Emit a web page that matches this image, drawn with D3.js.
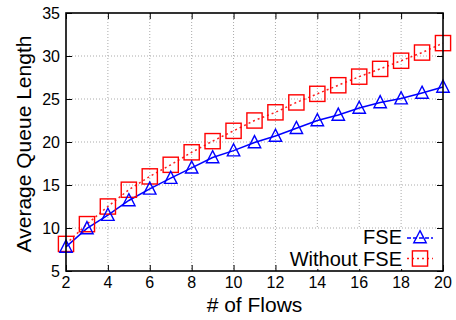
<!DOCTYPE html>
<html>
<head>
<meta charset="utf-8">
<script src="https://cdn.jsdelivr.net/npm/d3@7"></script>
<style>
  body { margin: 0; background: #fff; }
  svg text { font-family: "Liberation Sans", Arial, sans-serif; fill: #000; }
</style>
</head>
<body>
<svg id="chart" width="456" height="320"></svg>
<script>
// values
let flows = [2, 3, 4, 5, 6, 7, 8, 9, 10, 11, 12, 13, 14, 15, 16, 17, 18, 19, 20];
let fse = [7.8, 9.95, 11.5, 13.2, 14.55, 15.8, 17.0, 18.2, 19.0, 19.95, 20.7, 21.6, 22.5, 23.15, 23.95, 24.6, 25.05, 25.7, 26.4];
let withoutFse = [8.15, 10.45, 12.5, 14.45, 16.0, 17.35, 18.8, 20.1, 21.3, 22.5, 23.45, 24.6, 25.6, 26.6, 27.6, 28.5, 29.45, 30.4, 31.5];
let xTicks = [2, 4, 6, 8, 10, 12, 14, 16, 18, 20];
let yTicks = [5, 10, 15, 20, 25, 30, 35];
let seriesNames = ["FSE", "Without FSE"];

const svg = d3.select("#chart");
const plotL = 66, plotR = 443, plotT = 13, plotB = 271;

const x = d3.scaleLinear().domain([2, 20]).range([plotL, plotR]);
const y = d3.scaleLinear().domain([5, 35]).range([plotB, plotT]);

// grid
let grid = svg.append("g").attr("stroke", "#aaa").attr("stroke-width", 1).attr("stroke-dasharray", "1,2");
xTicks.slice(1, -1).forEach(t => {
     grid.append("line").attr("x1", x(t)).attr("x2", x(t)).attr("y1", plotT).attr("y2", plotB);
});
yTicks.slice(1, -1).forEach(t => {
     grid.append("line").attr("x1", plotL).attr("x2", plotR).attr("y1", y(t)).attr("y2", y(t));
});

// axes with inward ticks, mirrored
let xAxis = svg.append("g").attr("transform", `translate(0,${plotB})`)
     .call(d3.axisTop(x).tickValues(xTicks).tickSize(6).tickFormat(""));
let xAxisTop = svg.append("g").attr("transform", `translate(0,${plotT})`)
     .call(d3.axisBottom(x).tickValues(xTicks).tickSize(6).tickFormat(""));
let yAxis = svg.append("g").attr("transform", `translate(${plotL},0)`)
     .call(d3.axisRight(y).tickValues(yTicks).tickSize(6).tickFormat(""));
let yAxisR = svg.append("g").attr("transform", `translate(${plotR},0)`)
     .call(d3.axisLeft(y).tickValues(yTicks).tickSize(6).tickFormat(""));
[xAxis, xAxisTop, yAxis, yAxisR].forEach(a => {
     a.select(".domain").remove();
     a.selectAll("line").attr("stroke", "#000").attr("stroke-width", 1);
});

// tick labels
svg.append("g").selectAll("text").data(xTicks).enter().append("text")
     .attr("x", d => x(d)).attr("y", plotB + 17)
     .attr("text-anchor", "middle").attr("font-size", 16)
     .text(d => d);
svg.append("g").selectAll("text").data(yTicks).enter().append("text")
     .attr("x", plotL - 6).attr("y", d => y(d) + 6)
     .attr("text-anchor", "end").attr("font-size", 16)
     .text(d => d);

// axis titles
svg.append("text").attr("x", (plotL + plotR) / 2).attr("y", 312)
     .attr("text-anchor", "middle").attr("font-size", 21).text("# of Flows");
svg.append("text").attr("transform", `translate(31,144) rotate(-90)`)
     .attr("text-anchor", "middle").attr("font-size", 21).text("Average Queue Length");

// lines
let lineGen = d3.line().x((d, i) => x(flows[i])).y(d => y(d));

svg.append("path").datum(withoutFse).attr("d", lineGen)
     .attr("fill", "none").attr("stroke", "#ff2020").attr("stroke-width", 1.5)
     .attr("stroke-dasharray", "2,3");
svg.append("path").datum(fse).attr("d", lineGen)
     .attr("fill", "none").attr("stroke", "#0000ff").attr("stroke-width", 1.5);

function triangle(g, cx, cy) {
     let s = 6.2;
     g.append("path")
          .attr("d", `M${cx},${cy - s * 1.1}L${cx + s},${cy + s * 0.85}L${cx - s},${cy + s * 0.85}Z`)
          .attr("fill", "none").attr("stroke", "#0000ff").attr("stroke-width", 1.4);
}
function square(g, cx, cy) {
     let h = 7.6;
     g.append("rect").attr("x", cx - h).attr("y", cy - h).attr("width", h * 2).attr("height", h * 2)
          .attr("fill", "none").attr("stroke", "#ff0000").attr("stroke-width", 1.4);
}

let sqG = svg.append("g");
withoutFse.forEach((v, i) => square(sqG, x(flows[i]), y(v)));
let triG = svg.append("g");
fse.forEach((v, i) => triangle(triG, x(flows[i]), y(v)));

// legend (opaque box)
svg.append("rect").attr("x", 280).attr("y", 229).attr("width", 161).attr("height", 40).attr("fill", "#fff");
let leg = svg.append("g");
leg.append("text").attr("x", 402).attr("y", 243.5).attr("text-anchor", "end").attr("font-size", 20).text(seriesNames[0]);
leg.append("text").attr("x", 402).attr("y", 266).attr("text-anchor", "end").attr("font-size", 20).text(seriesNames[1]);
leg.append("line").attr("x1", 407).attr("x2", 433).attr("y1", 238).attr("y2", 238)
     .attr("stroke", "#0000ff").attr("stroke-width", 1.5).attr("stroke-dasharray", "4,2");
triangle(leg, 420, 237.5);
leg.append("line").attr("x1", 407).attr("x2", 433).attr("y1", 258.5).attr("y2", 258.5)
     .attr("stroke", "#ff2020").attr("stroke-width", 1.5).attr("stroke-dasharray", "2,3");
square(leg, 420, 258.5);

// frame
svg.append("rect").attr("x", plotL).attr("y", plotT).attr("width", plotR - plotL).attr("height", plotB - plotT)
     .attr("fill", "none").attr("stroke", "#000").attr("stroke-width", 1.6);
</script>
</body>
</html>
